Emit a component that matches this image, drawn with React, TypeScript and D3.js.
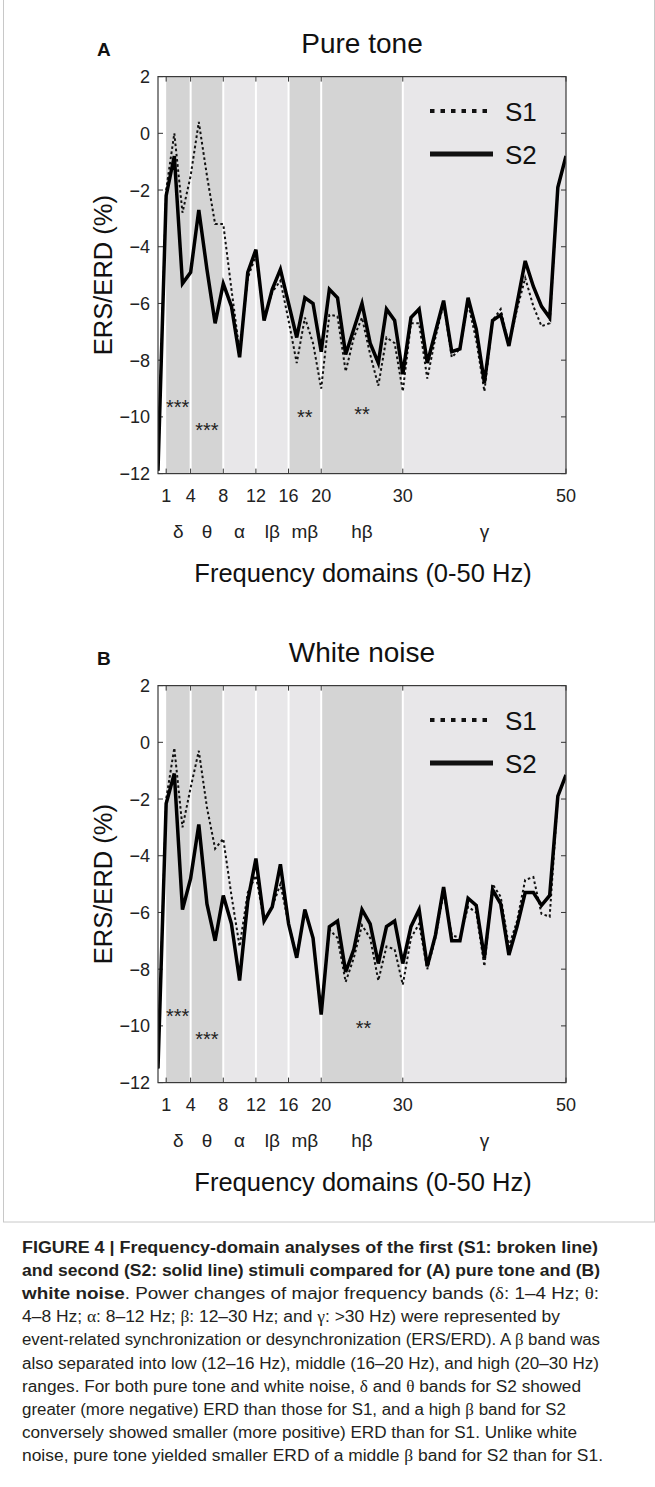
import React from "react";
import * as d3 from "d3";

// ---------- data ----------
const freqs = [0, 1, 2, 3, 4, 5, 6, 7, 8, 9, 10, 11, 12, 13, 14, 15, 16, 17, 18, 19, 20, 21, 22, 23, 24, 25, 26, 27, 28, 29, 30, 31, 32, 33, 34, 35, 36, 37, 38, 39, 40, 41, 42, 43, 44, 45, 46, 47, 48, 49, 50];

const pureS1 = [-11.9, -2.0, 0.0, -2.8, -1.5, 0.4, -1.5, -3.2, -3.2, -5.5, -7.7, -5.1, -4.3, -6.5, -5.6, -5.2, -6.6, -8.1, -6.5, -7.4, -9.0, -6.4, -6.45, -8.4, -7.2, -6.5, -7.8, -8.9, -7.2, -7.4, -9.1, -6.7, -6.7, -8.65, -7.2, -6.0, -7.9, -7.6, -6.0, -7.3, -9.1, -6.6, -6.2, -7.5, -6.2, -5.1, -6.1, -6.8, -6.7, -1.9, -0.8];
const pureS2 = [-11.9, -2.2, -0.8, -5.3, -4.9, -2.7, -4.8, -6.7, -5.3, -6.1, -7.9, -4.9, -4.1, -6.6, -5.5, -4.8, -6.0, -7.2, -5.8, -6.0, -7.7, -5.5, -5.8, -7.8, -6.9, -6.0, -7.4, -8.1, -6.2, -6.6, -8.5, -6.5, -6.2, -8.1, -7.0, -5.9, -7.7, -7.6, -5.8, -6.9, -8.8, -6.6, -6.4, -7.5, -6.0, -4.5, -5.4, -6.1, -6.5, -1.9, -0.8];

const noiseS1 = [-11.5, -2.0, -0.2, -3.0, -1.6, -0.3, -2.3, -3.75, -3.4, -5.4, -7.2, -5.3, -4.7, -6.3, -5.8, -5.0, -6.4, -7.5, -5.9, -6.9, -9.5, -6.6, -6.9, -8.45, -7.6, -6.45, -6.9, -8.4, -7.2, -7.3, -8.55, -6.9, -6.4, -8.0, -6.9, -5.3, -6.8, -6.9, -5.8, -6.0, -7.9, -5.0, -5.45, -7.2, -6.3, -4.85, -4.75, -6.05, -6.15, -1.9, -1.15];
const noiseS2 = [-11.5, -2.16, -1.1, -5.9, -4.8, -2.9, -5.7, -7.0, -5.4, -6.4, -8.4, -5.6, -4.1, -6.3, -5.8, -4.3, -6.4, -7.6, -5.9, -6.9, -9.6, -6.5, -6.3, -8.1, -7.3, -5.9, -6.4, -7.8, -6.5, -6.3, -7.8, -6.5, -5.9, -7.9, -6.8, -5.1, -7.0, -7.0, -5.5, -5.75, -7.6, -5.2, -5.7, -7.5, -6.5, -5.3, -5.3, -5.75, -5.4, -1.9, -1.15];

const xTicks = [1, 4, 8, 12, 16, 20, 30, 50];
const yTicks = [2, 0, -2, -4, -6, -8, -10, -12];
const bandEdges = [1, 4, 8, 12, 16, 20, 30, 50];
const bandNames = ["δ", "θ", "α", "lβ", "mβ", "hβ", "γ"];
const pureDark = [true, true, false, false, true, true, false];
const noiseDark = [true, true, false, false, false, true, false];

const pureStarF = [2.4, 6, 18, 25];
const pureStarV = [-9.5, -10.3, -9.85, -9.75];
const pureStarT = ["***", "***", "**", "**"];
const noiseStarF = [2.4, 6, 25.2];
const noiseStarV = [-9.5, -10.3, -9.9];
const noiseStarT = ["***", "***", "**"];

const captionLines = [
  { parts: [["FIGURE 4 | Frequency-domain analyses of the first (S1: broken line)", "b"]], end: 598 },
  { parts: [["and second (S2: solid line) stimuli compared for (A) pure tone and (B)", "b"]], end: 600 },
  { parts: [["white noise", "b"], [". Power changes of major frequency bands (δ: 1–4 Hz; θ:", "n"]], end: 599 },
  { parts: [["4–8 Hz; α: 8–12 Hz; β: 12–30 Hz; and γ: >30 Hz) were represented by", "n"]], end: 560 },
  { parts: [["event-related synchronization or desynchronization (ERS/ERD). A β band was", "n"]], end: 600 },
  { parts: [["also separated into low (12–16 Hz), middle (16–20 Hz), and high (20–30 Hz)", "n"]], end: 599 },
  { parts: [["ranges. For both pure tone and white noise, δ and θ bands for S2 showed", "n"]], end: 581 },
  { parts: [["greater (more negative) ERD than those for S1, and a high β band for S2", "n"]], end: 566 },
  { parts: [["conversely showed smaller (more positive) ERD than for S1. Unlike white", "n"]], end: 577 },
  { parts: [["noise, pure tone yielded smaller ERD of a middle β band for S2 than for S1.", "n"]], end: 603 },
];

// ---------- layout ----------
const W = 655;
const H = 1487;
const X0 = 158;
const X1 = 566;
const TOP = 76.6;
const BOT = 473.6;
const PANEL_DY = 609;
const FONT = "'Liberation Sans', Arial, Helvetica, sans-serif";

const x = d3.scaleLinear().domain([0, 50]).range([X0, X1]);
const y = d3.scaleLinear().domain([-12, 2]).range([BOT, TOP]);

function Panel(props: any) {
  const { off, title, letter, s1, s2, dark, starF, starV, starT, id } = props;
  const line = d3
    .line<number>()
    .x((_, i) => x(freqs[i]))
    .y((d) => y(d));
  const cx = (X0 + X1) / 2;
  const cy = (TOP + BOT) / 2;
  return (
    <g transform={`translate(0,${off})`}>
      <defs>
        <clipPath id={`clip-${id}`}>
          <rect x={X0} y={TOP} width={X1 - X0} height={BOT - TOP} />
        </clipPath>
      </defs>
      <text x={97} y={56} fontFamily={FONT} fontWeight="bold" fontSize={19} fill="#111">
        {letter}
      </text>
      <text x={cx} y={52.7} textAnchor="middle" fontFamily={FONT} fontSize={28} fill="#111">
        {title}
      </text>
      <rect x={X0} y={TOP} width={X1 - X0} height={BOT - TOP} fill="#ffffff" />
      {bandNames.map((n, i) => (
        <rect
          key={n}
          x={x(bandEdges[i])}
          y={TOP}
          width={x(bandEdges[i + 1]) - x(bandEdges[i])}
          height={BOT - TOP}
          fill={dark[i] ? "#d4d4d4" : "#e8e7e9"}
        />
      ))}
      {bandEdges.slice(1, -1).map((e) => (
        <line key={e} x1={x(e)} x2={x(e)} y1={TOP} y2={BOT} stroke="#ffffff" strokeWidth={2} />
      ))}
      {/* ticks */}
      {xTicks.map((t) => (
        <g key={t}>
          <line x1={x(t)} x2={x(t)} y1={BOT} y2={BOT - 5} stroke="#333" strokeWidth={1} />
          <line x1={x(t)} x2={x(t)} y1={TOP} y2={TOP + 5} stroke="#333" strokeWidth={1} />
          <text x={x(t)} y={BOT + 28.4} textAnchor="middle" fontFamily={FONT} fontSize={18} fill="#222">
            {t}
          </text>
        </g>
      ))}
      {yTicks.map((t) => (
        <g key={t}>
          <line x1={X0} x2={X0 + 5} y1={y(t)} y2={y(t)} stroke="#333" strokeWidth={1} />
          <line x1={X1} x2={X1 - 5} y1={y(t)} y2={y(t)} stroke="#333" strokeWidth={1} />
          <text x={150} y={y(t) + 6.5} textAnchor="end" fontFamily={FONT} fontSize={18} fill="#222">
            {t < 0 ? `\u2212${-t}` : `${t}`}
          </text>
        </g>
      ))}
      <g clipPath={`url(#clip-${id})`}>
        <path d={line(s1) || ""} fill="none" stroke="#111" strokeWidth={2} strokeDasharray="2.6 2.6" />
        <path d={line(s2) || ""} fill="none" stroke="#000" strokeWidth={3.5} strokeLinejoin="miter" />
      </g>
      <rect x={X0} y={TOP} width={X1 - X0} height={BOT - TOP} fill="none" stroke="#3a3a3a" strokeWidth={1.2} />
      {/* stars */}
      {starT.map((s: string, i: number) => (
        <text key={i} x={x(starF[i])} y={y(starV[i]) + 11.5} textAnchor="middle" fontFamily={FONT} fontSize={20} fill="#222">
          {s}
        </text>
      ))}
      {/* legend */}
      <line x1={430} x2={493} y1={111} y2={111} stroke="#111" strokeWidth={4} strokeDasharray="4.5 6" />
      <text x={505} y={120.5} fontFamily={FONT} fontSize={26} fill="#111">S1</text>
      <line x1={430} x2={493} y1={154} y2={154} stroke="#111" strokeWidth={5} />
      <text x={505} y={163.5} fontFamily={FONT} fontSize={26} fill="#111">S2</text>
      {/* band labels */}
      {bandNames.map((n, i) => (
        <text
          key={n}
          x={x((bandEdges[i] + bandEdges[i + 1]) / 2)}
          y={BOT + 64.5}
          textAnchor="middle"
          fontFamily={FONT}
          fontSize={19}
          fill="#222"
        >
          {n}
        </text>
      ))}
      <text x={cx + 1} y={BOT + 108.5} textAnchor="middle" fontFamily={FONT} fontSize={25.5} fill="#111">
        Frequency domains (0-50 Hz)
      </text>
      <text
        transform={`translate(112,${cy}) rotate(-90)`}
        textAnchor="middle"
        fontFamily={FONT}
        fontSize={25.5}
        fill="#111"
      >
        ERS/ERD (%)
      </text>
    </g>
  );
}

function renderParts(parts: any[]) {
  const out: any[] = [];
  parts.forEach((p, pi) => {
    const segs = p[0].split(/([δθαβγ])/);
    segs.forEach((s: string, si: number) => {
      if (!s) return;
      const greek = /^[δθαβγ]$/.test(s);
      out.push(
        <tspan
          key={`${pi}-${si}`}
          fontWeight={p[1] === "b" ? "bold" : "normal"}
          fontFamily={greek ? "'Liberation Serif', 'Times New Roman', serif" : FONT}
        >
          {s}
        </tspan>
      );
    });
  });
  return out;
}

export default function App() {
  return (
    <svg
      width={W}
      height={H}
      viewBox={`0 0 ${W} ${H}`}
      style={{ position: "absolute", left: 0, top: 0, background: "#fff" }}
    >
      <rect x={0} y={0} width={W} height={H} fill="#fff" />
      <rect x={3.5} y={-2} width={651} height={1224} fill="none" stroke="#c8c8c8" strokeWidth={1} />
      <Panel
        id="a"
        off={0}
        title="Pure tone"
        letter="A"
        s1={pureS1}
        s2={pureS2}
        dark={pureDark}
        starF={pureStarF}
        starV={pureStarV}
        starT={pureStarT}
      />
      <Panel
        id="b"
        off={PANEL_DY}
        title="White noise"
        letter="B"
        s1={noiseS1}
        s2={noiseS2}
        dark={noiseDark}
        starF={noiseStarF}
        starV={noiseStarV}
        starT={noiseStarT}
      />
      {captionLines.map((l, i) => (
        <text
          key={i}
          x={22}
          y={1253 + i * 23.1}
          fontFamily={FONT}
          fontSize={16}
          fill="#231f20"
          textLength={l.end - 22}
          lengthAdjust="spacingAndGlyphs"
        >
          {renderParts(l.parts)}
        </text>
      ))}
    </svg>
  );
}
